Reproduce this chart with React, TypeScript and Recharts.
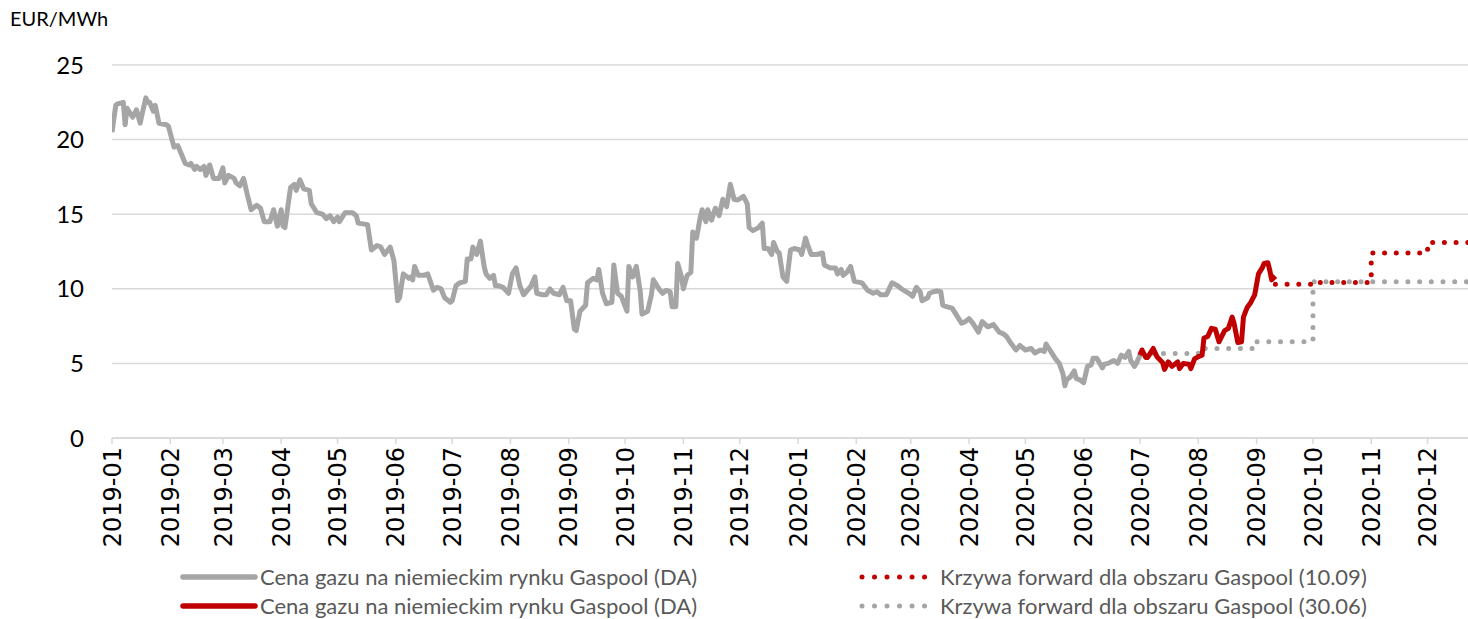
import React from 'react';
import { LineChart, Line, XAxis, YAxis, CartesianGrid } from 'recharts';

// Month tick labels (first day of each month)
const monthLabels = [
  '2019-01', '2019-02', '2019-03', '2019-04', '2019-05', '2019-06',
  '2019-07', '2019-08', '2019-09', '2019-10', '2019-11', '2019-12',
  '2020-01', '2020-02', '2020-03', '2020-04', '2020-05', '2020-06',
  '2020-07', '2020-08', '2020-09', '2020-10', '2020-11', '2020-12',
];
const yTicks = [0, 5, 10, 15, 20, 25];
const unitLabel = 'EUR/MWh';
const axisStartDate = '2019-01-01';
const axisEndDate = '2020-12-31';

const legendGrayDA = 'Cena gazu na niemieckim rynku Gaspool (DA)';
const legendRedDA = 'Cena gazu na niemieckim rynku Gaspool (DA)';
const legendFwd1009 = 'Krzywa forward dla obszaru Gaspool (10.09)';
const legendFwd3006 = 'Krzywa forward dla obszaru Gaspool (30.06)';

// [days since 2019-01-01, EUR/MWh]
const grayDaPoints: [number, number][] = [
  [0, 20.5], [2, 22.3], [3, 22.4], [6, 22.5], [7, 21.0], [8, 22.1], [10, 21.7], [11, 21.5], [13, 22.0], [15, 21.1],
  [16, 21.7], [18, 22.8], [19, 22.5], [20, 22.5], [22, 21.9], [23, 22.3], [25, 21.1], [29, 21.0], [30, 20.9], [33, 19.5],
  [35, 19.6], [36, 19.3], [39, 18.4], [41, 18.3], [42, 18.4], [44, 18.0], [45, 18.2], [47, 18.0], [49, 18.2], [50, 17.6],
  [52, 18.3], [54, 17.4], [57, 17.4], [59, 18.1], [60, 17.1], [62, 17.6], [65, 17.4], [66, 17.1], [68, 16.9], [70, 17.4],
  [72, 16.3], [74, 15.3], [77, 15.6], [79, 15.4], [81, 14.5], [84, 14.5], [86, 15.3], [88, 14.2], [90, 15.3], [91, 14.2],
  [92, 14.1], [95, 16.8], [97, 17.0], [98, 16.6], [100, 17.3], [102, 16.7], [105, 16.6], [106, 15.7], [109, 15.1], [112, 15.0],
  [114, 14.7], [116, 14.9], [118, 14.5], [120, 14.8], [121, 14.5], [124, 15.1], [128, 15.1], [130, 14.9], [131, 14.4], [136, 14.3],
  [138, 12.6], [141, 12.9], [143, 12.8], [145, 12.3], [148, 12.8], [150, 11.9], [152, 9.2], [153, 9.4], [155, 11.0], [158, 10.7],
  [159, 10.8], [160, 10.6], [161, 11.5], [163, 10.9], [166, 10.9], [168, 11.0], [171, 9.9], [173, 10.1], [175, 10.0], [177, 9.4],
  [180, 9.1], [181, 9.2], [183, 10.2], [185, 10.4], [188, 10.5], [189, 12.0], [191, 12.0], [192, 12.8], [194, 12.3], [196, 13.2],
  [198, 11.5], [199, 11.0], [201, 10.7], [203, 10.9], [204, 10.2], [206, 10.2], [208, 10.1], [211, 9.7], [213, 11.0], [215, 11.4],
  [217, 10.2], [219, 9.6], [221, 9.9], [223, 10.2], [225, 10.8], [226, 9.7], [229, 9.6], [231, 9.6], [233, 10.0], [235, 9.7],
  [238, 9.6], [240, 10.1], [242, 9.2], [244, 9.2], [246, 7.3], [247, 7.2], [249, 8.5], [252, 8.9], [253, 10.4], [256, 10.7],
  [258, 10.6], [259, 11.3], [261, 9.7], [263, 9.0], [266, 9.1], [267, 11.6], [269, 9.7], [271, 9.5], [274, 8.5], [275, 11.5],
  [277, 10.8], [279, 11.5], [281, 9.9], [282, 8.3], [285, 8.5], [287, 9.6], [288, 10.6], [291, 10.0], [293, 9.7], [295, 9.9],
  [297, 9.8], [298, 8.8], [300, 8.8], [301, 11.7], [303, 10.8], [304, 10.0], [306, 10.9], [308, 11.1], [309, 13.8], [311, 13.4],
  [313, 14.8], [314, 15.3], [316, 14.5], [317, 15.3], [319, 14.6], [321, 15.4], [323, 14.9], [325, 16.0], [327, 15.5], [329, 17.0],
  [331, 16.0], [333, 15.95], [336, 16.2], [338, 15.7], [339, 14.1], [341, 13.9], [344, 14.1], [346, 14.4], [347, 12.7], [349, 12.7],
  [351, 12.3], [352, 13.1], [354, 12.5], [355, 12.4], [357, 10.8], [359, 10.5], [361, 12.6], [363, 12.7], [366, 12.6], [367, 12.3],
  [369, 13.4], [370, 13.0], [372, 12.3], [375, 12.3], [378, 12.4], [379, 11.6], [382, 11.4], [385, 11.4], [386, 11.0], [388, 11.3],
  [389, 10.9], [391, 11.1], [393, 11.5], [395, 10.5], [399, 10.4], [402, 9.9], [405, 9.7], [407, 9.8], [409, 9.6], [412, 9.6],
  [415, 10.4], [418, 10.2], [420, 10.0], [424, 9.7], [426, 9.5], [428, 10.1], [430, 9.8], [431, 9.2], [434, 9.4], [435, 9.7],
  [437, 9.8], [439, 9.85], [441, 9.8], [442, 8.9], [444, 8.8], [447, 8.7], [449, 8.3], [452, 7.7], [454, 7.8], [456, 8.0],
  [458, 7.7], [461, 7.1], [463, 7.8], [466, 7.45], [469, 7.6], [472, 7.1], [474, 7.0], [476, 6.8], [478, 6.4], [481, 5.9],
  [483, 6.2], [486, 5.9], [489, 6.0], [491, 5.7], [494, 5.9], [496, 5.8], [497, 6.3], [500, 5.7], [502, 5.3], [504, 5.0],
  [506, 4.3], [507, 3.5], [508, 3.9], [510, 4.1], [512, 4.5], [513, 4.0], [515, 3.9], [517, 3.7], [519, 4.8], [521, 4.9],
  [522, 5.35], [524, 5.35], [527, 4.7], [528, 4.95], [530, 5.0], [533, 5.2], [535, 5.0], [537, 5.55], [539, 5.4], [541, 5.8],
  [542, 5.2], [544, 4.8], [545, 5.0], [547, 5.55],
];

const redDaPoints: [number, number][] = [
  [547, 5.55], [548, 5.9], [550, 5.4], [551, 5.4], [554, 6.0], [556, 5.45], [559, 5.05], [560, 4.6], [562, 5.1], [564, 4.8],
  [567, 5.1], [568, 4.65], [570, 5.0], [573, 4.95], [574, 4.65], [576, 5.3], [578, 5.45], [580, 5.55], [581, 6.7], [583, 6.8],
  [585, 7.35], [587, 7.3], [589, 6.45], [592, 7.2], [594, 7.35], [596, 8.1], [597, 7.7], [599, 6.4], [601, 6.45], [602, 8.1],
  [604, 8.75], [606, 9.1], [607, 9.35], [608, 9.6], [610, 11.0], [612, 11.4], [613, 11.7], [615, 11.75], [616, 11.25], [617, 10.6],
  [619, 10.85],
];

// Forward curves (step values by delivery period)
const fwd1009Points: [number, number][] = [[619, 10.3], [639, 10.43], [670, 12.4], [700, 13.1], [730, 13.1]];
const fwd3006Points: [number, number][] = [[547, 5.66], [578, 6.0], [609, 6.45], [639, 10.47], [730, 10.47]];

const GRAY = '#A5A5A5';
const RED = '#C00000';
const GRID = '#D9D9D9';
const LABEL_FONT = 'Lato, "Open Sans", sans-serif';
const TICK_FONT = '"DejaVu Sans", Verdana, sans-serif';
const LINE_W = 5;

const dayOf = (iso: string) => {
  const [y, m, d] = iso.split('-').map(Number);
  return Math.round((Date.UTC(y, m - 1, d || 1) - Date.UTC(2019, 0, 1)) / 86400000);
};
const monthTicks = monthLabels.map((l) => dayOf(l));
const tickLabelByDay: Record<number, string> = {};
monthLabels.forEach((l, i) => { tickLabelByDay[monthTicks[i]] = l; });

const toData = (pts: [number, number][]) => pts.map(([day, v]) => ({ day, v }));

const XTick = (props: any) => {
  const { x, y, payload } = props;
  return (
    <text
      x={x}
      y={y}
      transform={`rotate(-90, ${x}, ${y})`}
      textAnchor="end"
      dy="0.36em"
      fontSize={24}
      fontFamily={TICK_FONT}
      fill="#000"
    >
      {tickLabelByDay[payload.value] ?? ''}
    </text>
  );
};

const SolidSample = ({ color }: { color: string }) => (
  <svg width={80} height={12} style={{ display: 'block' }}>
    <line x1={4} y1={6} x2={76} y2={6} stroke={color} strokeWidth={5.5} strokeLinecap="round" />
  </svg>
);
const DotSample = ({ color }: { color: string }) => (
  <svg width={74} height={12} style={{ display: 'block' }}>
    <line x1={3} y1={6} x2={71} y2={6} stroke={color} strokeWidth={5} strokeLinecap="round" strokeDasharray="0.01 12.5" />
  </svg>
);

const legendText: React.CSSProperties = {
  position: 'absolute',
  fontFamily: LABEL_FONT,
  fontSize: 22,
  color: '#595959',
  whiteSpace: 'nowrap',
  lineHeight: '24px',
};

export default function App() {
  const xEnd = dayOf(axisEndDate);
  const xStart = dayOf(axisStartDate);
  return (
    <div style={{ position: 'absolute', left: 0, top: 0, width: 1468, height: 619, overflow: 'hidden', background: '#fff' }}>
      <div style={{ position: 'absolute', left: 10, top: 6, fontFamily: LABEL_FONT, fontSize: 20, lineHeight: '24px', color: '#000' }}>
        {unitLabel}
      </div>
      <LineChart width={1484} height={619} margin={{ top: 65, right: 0, bottom: 0, left: 0 }}>
        <CartesianGrid horizontal vertical={false} stroke={GRID} strokeWidth={1.5} />
        <XAxis
          type="number"
          dataKey="day"
          domain={[xStart, xEnd]}
          ticks={monthTicks}
          interval={0}
          allowDataOverflow
          height={181}
          tickSize={6}
          tickMargin={3}
          axisLine={{ stroke: GRID, strokeWidth: 1.5 }}
          tickLine={{ stroke: GRID, strokeWidth: 1.5 }}
          tick={<XTick />}
        />
        <YAxis
          type="number"
          domain={[0, 25]}
          ticks={yTicks}
          interval={0}
          width={112}
          axisLine={false}
          tickLine={false}
          tickSize={0}
          tickMargin={28}
          tick={{ fontSize: 24, fontFamily: LABEL_FONT, fill: '#000' }}
        />
        <Line data={toData(grayDaPoints)} dataKey="v" type="linear" stroke={GRAY} strokeWidth={LINE_W} dot={false}
          strokeLinejoin="round" isAnimationActive={false} />
        <Line data={toData(fwd3006Points)} dataKey="v" type="stepAfter" stroke={GRAY} strokeWidth={LINE_W} dot={false}
          strokeLinecap="round" strokeDasharray="0.01 11.7" isAnimationActive={false} />
        <Line data={toData(fwd1009Points)} dataKey="v" type="stepAfter" stroke={RED} strokeWidth={LINE_W} dot={false}
          strokeLinecap="round" strokeDasharray="0.01 11.7" isAnimationActive={false} />
        <Line data={toData(redDaPoints)} dataKey="v" type="linear" stroke={RED} strokeWidth={LINE_W} dot={false}
          strokeLinejoin="round" isAnimationActive={false} />
      </LineChart>
      {/* Legend */}
      <div style={{ position: 'absolute', left: 179, top: 571 }}><SolidSample color={GRAY} /></div>
      <div style={{ ...legendText, left: 260, top: 565 }}>{legendGrayDA}</div>
      <div style={{ position: 'absolute', left: 179, top: 600 }}><SolidSample color={RED} /></div>
      <div style={{ ...legendText, left: 260, top: 594 }}>{legendRedDA}</div>
      <div style={{ position: 'absolute', left: 859, top: 571 }}><DotSample color={RED} /></div>
      <div style={{ ...legendText, left: 940, top: 565 }}>{legendFwd1009}</div>
      <div style={{ position: 'absolute', left: 859, top: 600 }}><DotSample color={GRAY} /></div>
      <div style={{ ...legendText, left: 940, top: 594 }}>{legendFwd3006}</div>
    </div>
  );
}
